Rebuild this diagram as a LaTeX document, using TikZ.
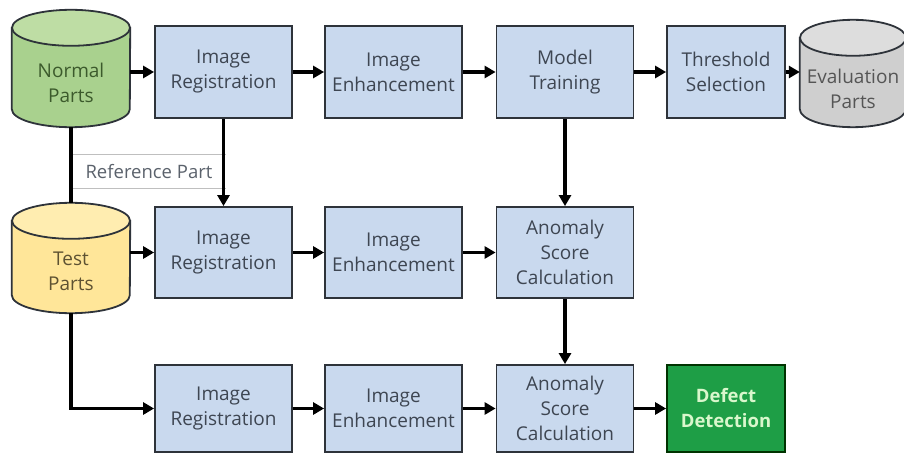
\documentclass[tikz,border=0pt]{standalone}
\usepackage{fontspec}
\setmainfont{Open Sans}
\usetikzlibrary{arrows.meta,positioning,calc,backgrounds}

\definecolor{boxblue}{HTML}{C9D9EE}
\definecolor{boxline}{HTML}{2E333A}
\definecolor{txtgray}{HTML}{3E4652}
\definecolor{greenbody}{HTML}{A9D18E}
\definecolor{greentop}{HTML}{BEDDA4}
\definecolor{greentxt}{HTML}{3C5A2C}
\definecolor{yellowbody}{HTML}{FFE699}
\definecolor{yellowtop}{HTML}{FFEDB0}
\definecolor{yellowtxt}{HTML}{5E5232}
\definecolor{graybody}{HTML}{CFCFCF}
\definecolor{graytop}{HTML}{DDDDDD}
\definecolor{graytxt}{HTML}{555555}
\definecolor{defectgreen}{HTML}{1E9E46}
\definecolor{defecttxt}{HTML}{D9F7CC}

\begin{document}
\begin{tikzpicture}[x=1pt,y=-1pt,
	stage/.style={draw=boxline,line width=1.8pt,fill=boxblue,text=txtgray,
		minimum width=137pt,minimum height=92pt,align=center,inner sep=0pt,
		font=\fontsize{19}{25}\selectfont},
	store/.style={align=center,inner sep=0pt,font=\fontsize{19}{25}\selectfont},
	storeline/.style={draw=boxline,line width=1.8pt},
	flow/.style={line width=3.6pt,-{Triangle[length=11pt,width=12pt]}}
]
	\useasboundingbox (0,0) rectangle (904,454);
	
	% data stores
	\node[store,text=greentxt,minimum width=118pt,minimum height=117pt]
		(normal) at (71,68.5) {\\[18pt]Normal\\Parts};
	\node[store,text=yellowtxt,minimum width=118pt,minimum height=110pt]
		(test) at (71,258) {\\[16pt]Test\\Parts};
	\node[store,text=graytxt,minimum width=106pt,minimum height=107pt]
		(eval) at (853,73.5) {\\[20pt]Evaluation\\Parts};
	\begin{scope}[on background layer]
		\foreach \n/\r/\bc/\tc in {normal/59/greenbody/greentop,
				test/59/yellowbody/yellowtop,eval/53/graybody/graytop}{
			\filldraw[storeline,fill=\bc] ($(\n.north west)+(0,18)$) -- ($(\n.south west)-(0,18)$)
				arc[start angle=180,end angle=0,x radius=\r,y radius=18]
				-- ($(\n.north east)+(0,18)$) -- cycle;
			\filldraw[storeline,fill=\tc] ($(\n.north)+(0,18)$) ellipse[x radius=\r,y radius=18];
		}
	\end{scope}
	
	% first row
	\node[stage] (reg1) at (223.5,72) {Image\\Registration};
	\node[stage] (enh1) at (393.5,72) {Image\\Enhancement};
	\node[stage] (train) at (565,72) {Model\\Training};
	\node[stage,minimum width=118pt] (thresh) at (726,72) {Threshold\\Selection};
	
	% second row
	\node[stage,minimum height=91pt] (reg2) at (223.5,252.5) {Image\\Registration};
	\node[stage,minimum height=91pt] (enh2) at (393.5,252.5) {Image\\Enhancement};
	\node[stage,minimum height=91pt] (score2) at (565,252.5) {Anomaly\\Score\\Calculation};
	
	% third row
	\node[stage,minimum height=87pt] (reg3) at (223.5,408.5) {Image\\Registration};
	\node[stage,minimum height=87pt] (enh3) at (393.5,408.5) {Image\\Enhancement};
	\node[stage,minimum height=87pt] (score3) at (565,408.5) {Anomaly\\Score\\Calculation};
	\node[stage,minimum width=118pt,minimum height=87pt,fill=defectgreen,
		draw=black!80!green,text=defecttxt,font=\fontsize{18.5}{25}\selectfont\bfseries]
		(defect) at (726,408.5) {Defect\\Detection};
	
	% reference part label
	\node[minimum width=154pt,minimum height=33pt,inner sep=0pt,text=txtgray!85,
		font=\fontsize{18.5}{20}\selectfont] (refpart) at (149,171.5) {Reference Part};
	\draw[black!25,line width=1pt] (refpart.north west) -- (refpart.north east)
		(refpart.south west) -- (refpart.south east);
	
	% connectors
	\draw[flow] (normal.east|-reg1.west) -- (reg1.west);
	\draw[flow] (reg1) -- (enh1);
	\draw[flow] (enh1) -- (train);
	\draw[flow] (train) -- (thresh);
	\draw[flow] (thresh.east) -- (eval.west|-thresh.east);
	\draw[line width=3.6pt] (normal.south) -- (test.north);
	\draw[flow] (reg1.south) -- (reg2.north);
	\draw[flow] (test.east|-reg2.west) -- (reg2.west);
	\draw[flow] (reg2) -- (enh2);
	\draw[flow] (enh2) -- (score2);
	\draw[flow] (train.south) -- (score2.north);
	\draw[flow] (score2.south) -- (score3.north);
	\draw[flow] (test.south) |- (reg3.west);
	\draw[flow] (reg3) -- (enh3);
	\draw[flow] (enh3) -- (score3);
	\draw[flow] (score3) -- (defect);
\end{tikzpicture}
\end{document}
